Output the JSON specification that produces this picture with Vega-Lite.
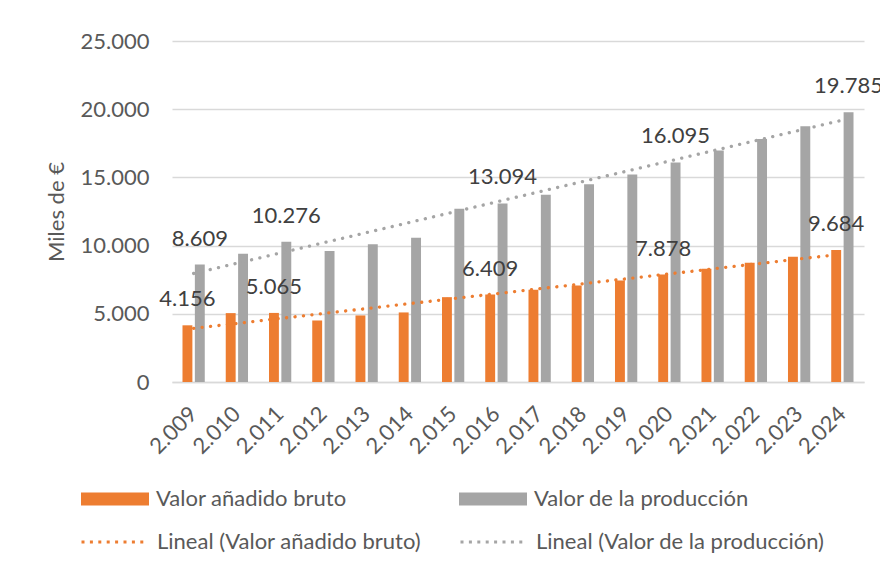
{
  "$schema": "https://vega.github.io/schema/vega-lite/v6.json",
  "width": 692,
  "height": 341,
  "autosize": "none",
  "padding": {"left": 172, "top": 41, "right": 16, "bottom": 184},
  "background": "white",
  "config": {
    "locale": {"number": {"decimal": ",", "thousands": ".", "grouping": [3], "currency": ["", " €"]}},
    "font": "Lato",
    "view": {"stroke": null}
  },
  "data": {
    "values": [
      {"year": 2009, "series": "Valor añadido bruto", "value": 4156},
      {"year": 2009, "series": "Valor de la producción", "value": 8609},
      {"year": 2010, "series": "Valor añadido bruto", "value": 5050},
      {"year": 2010, "series": "Valor de la producción", "value": 9410},
      {"year": 2011, "series": "Valor añadido bruto", "value": 5065},
      {"year": 2011, "series": "Valor de la producción", "value": 10276},
      {"year": 2012, "series": "Valor añadido bruto", "value": 4510},
      {"year": 2012, "series": "Valor de la producción", "value": 9600},
      {"year": 2013, "series": "Valor añadido bruto", "value": 4880},
      {"year": 2013, "series": "Valor de la producción", "value": 10090},
      {"year": 2014, "series": "Valor añadido bruto", "value": 5100},
      {"year": 2014, "series": "Valor de la producción", "value": 10580},
      {"year": 2015, "series": "Valor añadido bruto", "value": 6220},
      {"year": 2015, "series": "Valor de la producción", "value": 12710},
      {"year": 2016, "series": "Valor añadido bruto", "value": 6409},
      {"year": 2016, "series": "Valor de la producción", "value": 13094},
      {"year": 2017, "series": "Valor añadido bruto", "value": 6760},
      {"year": 2017, "series": "Valor de la producción", "value": 13730},
      {"year": 2018, "series": "Valor añadido bruto", "value": 7080},
      {"year": 2018, "series": "Valor de la producción", "value": 14490},
      {"year": 2019, "series": "Valor añadido bruto", "value": 7450},
      {"year": 2019, "series": "Valor de la producción", "value": 15220},
      {"year": 2020, "series": "Valor añadido bruto", "value": 7878},
      {"year": 2020, "series": "Valor de la producción", "value": 16095},
      {"year": 2021, "series": "Valor añadido bruto", "value": 8310},
      {"year": 2021, "series": "Valor de la producción", "value": 16980},
      {"year": 2022, "series": "Valor añadido bruto", "value": 8750},
      {"year": 2022, "series": "Valor de la producción", "value": 17810},
      {"year": 2023, "series": "Valor añadido bruto", "value": 9190},
      {"year": 2023, "series": "Valor de la producción", "value": 18750},
      {"year": 2024, "series": "Valor añadido bruto", "value": 9684},
      {"year": 2024, "series": "Valor de la producción", "value": 19785}
    ]
  },
  "layer": [
    {
      "mark": {"type": "bar"},
      "encoding": {
        "x": {
          "field": "year", "type": "ordinal",
          "scale": {"domain": [2009, 2010, 2011, 2012, 2013, 2014, 2015, 2016, 2017, 2018, 2019, 2020, 2021, 2022, 2023, 2024], "paddingInner": 0.485, "paddingOuter": 0.2425},
          "axis": {
            "title": null,
            "labelAngle": -45,
            "labelAlign": "right",
            "labelBaseline": "middle",
            "labelPadding": 28,
            "labelExpr": "replace(format(datum.value, ','), ',', '.')",
            "labelFontSize": 22,
            "labelFont": "Lato",
            "labelColor": "#595959",
            "ticks": false,
            "grid": false,
            "domainColor": "#D9D9D9",
            "domainWidth": 1.3
          }
        },
        "xOffset": {"field": "series", "type": "nominal", "scale": {"paddingInner": 0.2, "paddingOuter": 0}},
        "y": {
          "field": "value", "type": "quantitative",
          "scale": {"domain": [0, 25000], "nice": false},
          "axis": {
            "title": "Miles de €",
            "titleFontSize": 22,
            "titleFont": "Lato",
            "titleFontWeight": "normal",
            "titleColor": "#595959",
            "titlePadding": 12,
            "values": [0, 5000, 10000, 15000, 20000, 25000],
            "labelExpr": "replace(format(datum.value, ','), ',', '.')",
            "labelFontSize": 22,
            "labelFont": "Lato",
            "labelColor": "#595959",
            "labelPadding": 23,
            "domain": false,
            "ticks": false,
            "gridColor": "#D9D9D9",
            "gridWidth": 1.3
          }
        },
        "fill": {
          "field": "series", "type": "nominal",
          "scale": {"range": ["#ED7D31", "#A5A5A5"]},
          "legend": {
            "orient": "none",
            "legendX": -91,
            "legendY": 424,
            "direction": "horizontal",
            "columns": 2,
            "title": null,
            "symbolType": "M-1,-0.191L1,-0.191L1,0.191L-1,0.191Z",
            "symbolSize": 4624,
            "symbolStrokeWidth": 0,
            "symbolOpacity": 1,
            "labelFontSize": 22,
            "labelFont": "Lato",
            "labelColor": "#595959",
            "labelOffset": 7,
            "labelLimit": 500,
            "columnPadding": 112
          }
        }
      }
    },
    {
      "transform": [{"regression": "value", "on": "year", "groupby": ["series"]}],
      "mark": {"type": "line", "strokeDash": [0.1, 8.4], "strokeCap": "round", "strokeWidth": 3.3},
      "encoding": {
        "x": {"field": "year", "type": "quantitative", "scale": {"domain": [2008.5, 2024.5], "nice": false, "zero": false}, "axis": null},
        "y": {"field": "value", "type": "quantitative"},
        "stroke": {
          "field": "series", "type": "nominal",
          "scale": {"domain": ["Valor añadido bruto", "Valor de la producción"], "range": ["#ED7D31", "#A5A5A5"]},
          "legend": {
            "orient": "none",
            "legendX": -92,
            "legendY": 466,
            "direction": "horizontal",
            "columns": 2,
            "title": null,
            "symbolType": "stroke",
            "symbolSize": 4489,
            "symbolStrokeWidth": 3,
            "symbolDash": [3, 5.4],
            "labelExpr": "'Lineal (' + datum.label + ')'",
            "labelFontSize": 22,
            "labelFont": "Lato",
            "labelColor": "#595959",
            "labelOffset": 7,
            "labelLimit": 500,
            "columnPadding": 32
          }
        }
      }
    },
    {
      "transform": [{"filter": "indexof([2009, 2011, 2016, 2020, 2024], datum.year) >= 0"}],
      "mark": {"type": "text", "dy": -26, "fontSize": 22, "font": "Lato", "color": "#404040", "baseline": "middle"},
      "encoding": {
        "x": {"field": "year", "type": "ordinal", "scale": {"domain": [2009, 2010, 2011, 2012, 2013, 2014, 2015, 2016, 2017, 2018, 2019, 2020, 2021, 2022, 2023, 2024], "paddingInner": 0.485, "paddingOuter": 0.2425}, "axis": null},
        "xOffset": {"field": "series", "type": "nominal", "scale": {"paddingInner": 0.2, "paddingOuter": 0}},
        "y": {"field": "value", "type": "quantitative"},
        "text": {"field": "value", "type": "quantitative", "format": ",d"}
      }
    }
  ],
  "resolve": {"scale": {"x": "independent"}}
}
